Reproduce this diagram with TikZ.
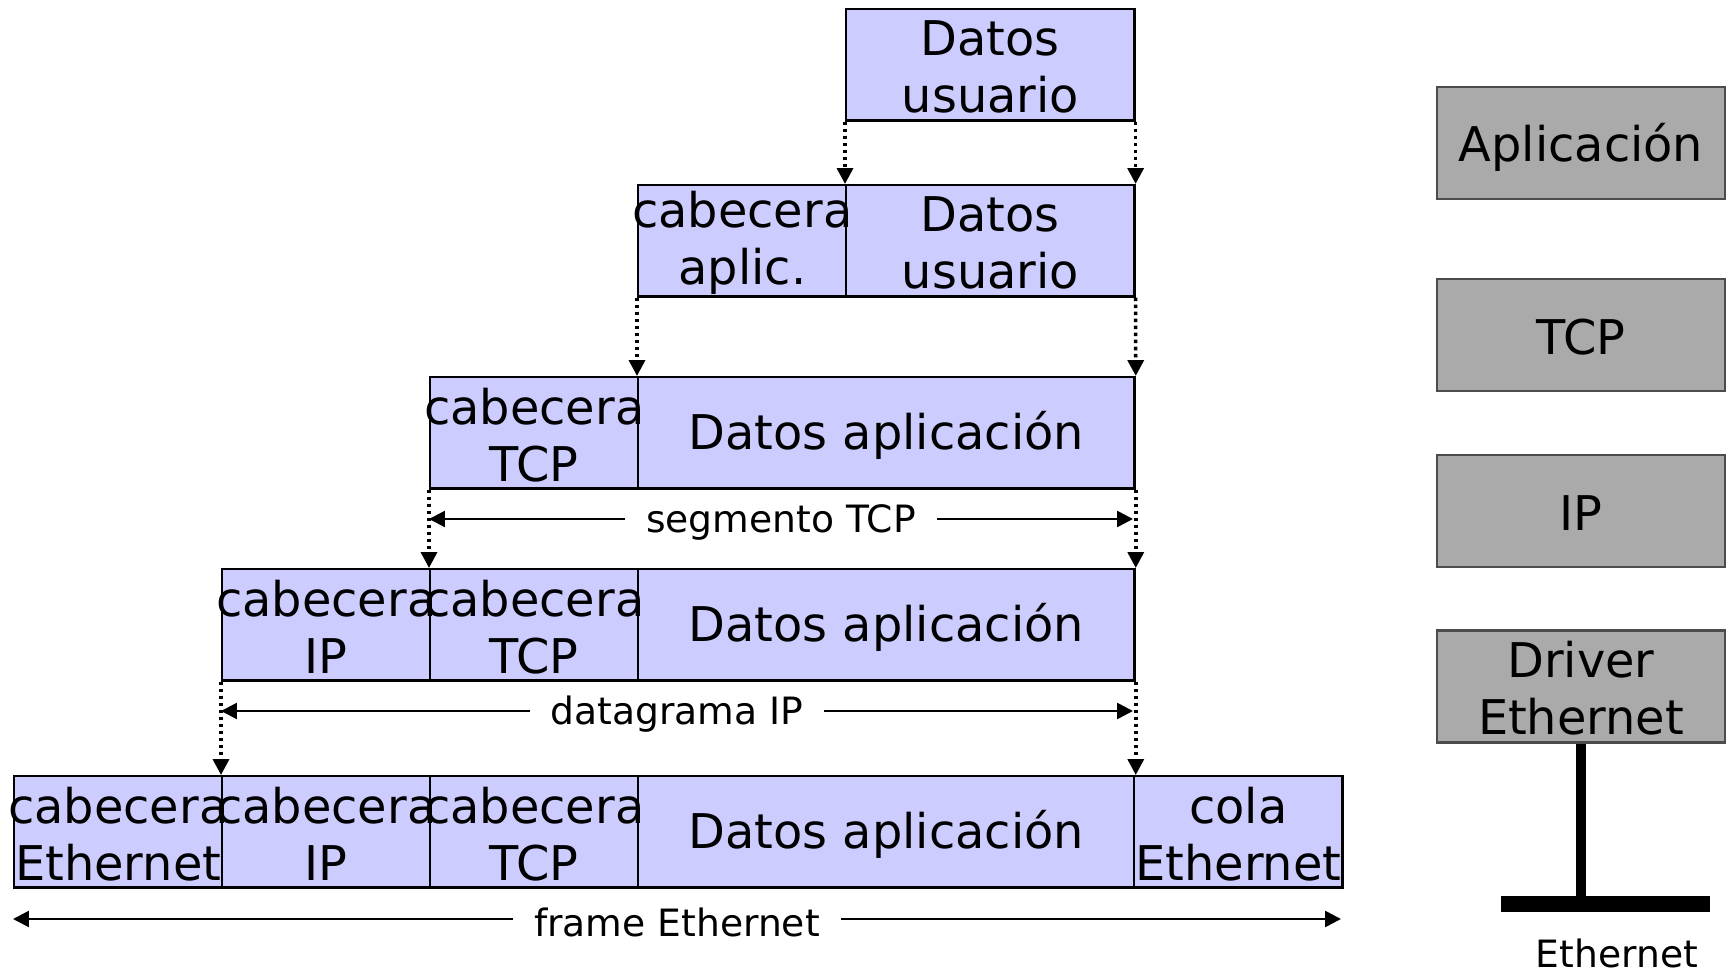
\documentclass[tikz,border=0pt]{standalone}
\usepackage{fontspec}
\setmainfont{DejaVu Sans}
\usetikzlibrary{arrows.meta}
\definecolor{pduFill}{RGB}{204,204,255}
\definecolor{layerFill}{RGB}{170,170,170}
\tikzset{
  pdu/.style={draw=black, line width=0.7pt, fill=pduFill, anchor=north west,
    minimum height=1.11cm, inner sep=0pt},
  hdr/.style={pdu, minimum width=2.08cm},
  pdutext/.style={inner sep=0pt, align=center, yshift=-0.6pt,
    font=\fontsize{13.6}{16.2}\selectfont},
  layer/.style={draw=black!70, line width=0.6pt, fill=layerFill,
    minimum width=2.88cm, minimum height=1.12cm, inner sep=0pt},
  encap/.style={densely dotted, line width=1pt, -{Triangle[width=4.5pt,length=4.5pt]}},
  span/.style={line width=0.7pt,
    {Triangle[width=4.5pt,length=4.5pt]}-{Triangle[width=4.5pt,length=4.5pt]}},
  spanlabel/.style={fill=white, inner xsep=6pt, inner ysep=1pt, yshift=-0.9pt,
    font=\fontsize{10.7}{12}\selectfont},
}
\begin{document}
\begin{tikzpicture}[x=0.01cm,y=-0.01cm]
\useasboundingbox (0,0) rectangle (1728,971);
% encapsulation, top to bottom (boxes first, texts on top)
\node[pdu, minimum width=2.88cm] (usr1) at (845,8) {};
\node[hdr] (app2) at (637,184) {};
\node[pdu, minimum width=2.88cm] (usr2) at (845,184) {};
\node[hdr] (tcp3) at (429,376) {};
\node[pdu, minimum width=4.96cm] (dat3) at (637,376) {};
\node[hdr] (ip4) at (221,568) {};
\node[hdr] (tcp4) at (429,568) {};
\node[pdu, minimum width=4.96cm] (dat4) at (637,568) {};
\node[hdr] (eth5) at (13,775) {};
\node[hdr] (ip5) at (221,775) {};
\node[hdr] (tcp5) at (429,775) {};
\node[pdu, minimum width=4.96cm] (dat5) at (637,775) {};
\node[hdr] (cola5) at (1133,775) {};

\node[pdutext] (usr1-t) at (usr1) {Datos\\usuario};
\node[pdutext] (app2-t) at (app2) {cabecera\\aplic.};
\node[pdutext] (usr2-t) at (usr2) {Datos\\usuario};
\node[pdutext] (tcp3-t) at (tcp3) {cabecera\\TCP};
\node[pdutext] (dat3-t) at (dat3) {Datos aplicación};
\node[pdutext] (ip4-t) at (ip4) {cabecera\\IP};
\node[pdutext] (tcp4-t) at (tcp4) {cabecera\\TCP};
\node[pdutext] (dat4-t) at (dat4) {Datos aplicación};
\node[pdutext] (eth5-t) at (eth5) {cabecera\\Ethernet};
\node[pdutext] (ip5-t) at (ip5) {cabecera\\IP};
\node[pdutext] (tcp5-t) at (tcp5) {cabecera\\TCP};
\node[pdutext] (dat5-t) at (dat5) {Datos aplicación};
\node[pdutext] (cola5-t) at (cola5) {cola\\Ethernet};

\draw[encap] (usr1.south west) -- (usr2.north west);
\draw[encap] (usr1.south east) -- (usr2.north east);
\draw[encap] (app2.south west) -- (dat3.north west);
\draw[encap] (usr2.south east) -- (dat3.north east);
\draw[encap] (tcp3.south west) -- (tcp4.north west);
\draw[encap] (dat3.south east) -- (dat4.north east);
\draw[encap] (ip4.south west) -- (ip5.north west);
\draw[encap] (dat4.south east) -- (dat5.north east);

\coordinate (seg-w) at (429,519);
\coordinate (seg-e) at (1133,519);
\coordinate (dgr-w) at (221,711);
\coordinate (dgr-e) at (1133,711);
\coordinate (frm-w) at (13,919);
\coordinate (frm-e) at (1341,919);
\draw[span] (seg-w) -- node[spanlabel] {segmento TCP} (seg-e);
\draw[span] (dgr-w) -- node[spanlabel] {datagrama IP} (dgr-e);
\draw[span] (frm-w) -- node[spanlabel] {frame Ethernet} (frm-e);

% protocol stack
\node[layer] (apl) at (1581,143) {};
\node[layer] (tcp) at (1581,335) {};
\node[layer] (ip) at (1581,511) {};
\node[layer] (drv) at (1581,686.5) {};
\node[pdutext, yshift=-0.6pt] (apl-t) at (apl) {Aplicación};
\node[pdutext] (tcp-t) at (tcp) {TCP};
\node[pdutext] (ip-t) at (ip) {IP};
\node[pdutext] (drv-t) at (drv) {Driver\\Ethernet};
\coordinate (bus-w) at (1501,904);
\coordinate (bus-e) at (1710,904);
\draw[line width=2.8pt] (drv.south) -- (drv.south |- bus-w);
\draw[line width=4.5pt] (bus-w) -- (bus-e);
\node[font=\fontsize{10.7}{12}\selectfont] (bus) at (1617,953) {Ethernet};
\end{tikzpicture}
\end{document}
